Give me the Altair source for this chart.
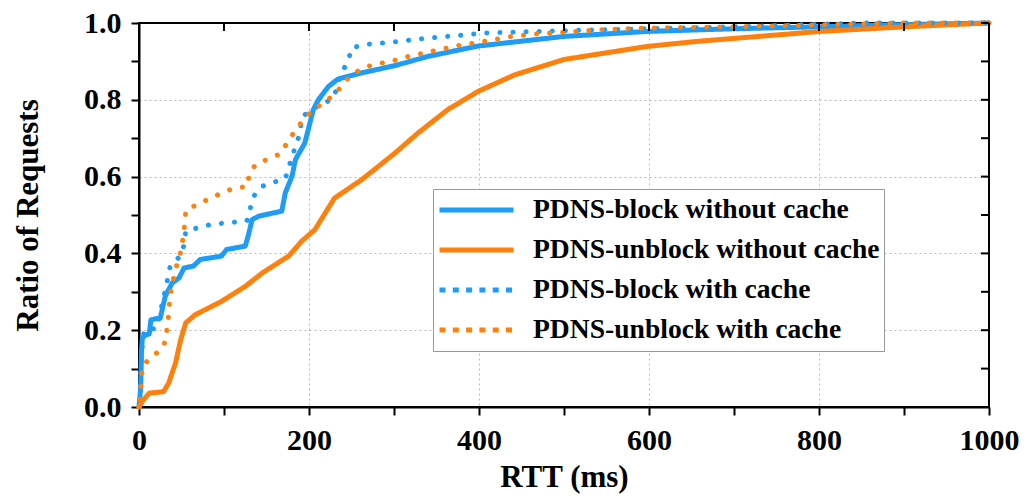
import altair as alt
import pandas as pd

# ---- data ----
series_names = [
    "PDNS-block without cache",
    "PDNS-unblock without cache",
    "PDNS-block with cache",
    "PDNS-unblock with cache",
]

block_nocache_x = [0, 2, 3, 4, 8, 12, 14, 25, 31, 39, 47, 53, 64, 72, 97, 103, 125, 129, 133, 141,
                   168, 172, 180, 184, 195, 205, 211, 223, 234, 262, 301, 340, 399, 500, 598, 700,
                   800, 900, 1000]
block_nocache_y = [0.0, 0.05, 0.15, 0.18, 0.188, 0.19, 0.227, 0.232, 0.289, 0.323, 0.336, 0.362,
                   0.367, 0.384, 0.393, 0.41, 0.419, 0.45, 0.488, 0.497, 0.51, 0.557, 0.601, 0.644,
                   0.687, 0.774, 0.8, 0.835, 0.854, 0.87, 0.889, 0.913, 0.94, 0.965, 0.978, 0.985,
                   0.99, 0.996, 1.0]

unblock_nocache_x = [0, 4, 12, 29, 35, 43, 49, 55, 66, 97, 125, 145, 176, 191, 207, 219, 230, 262,
                     301, 328, 363, 399, 442, 500, 598, 656, 801, 900, 1000]
unblock_nocache_y = [0.0, 0.015, 0.036, 0.04, 0.063, 0.115, 0.175, 0.219, 0.24, 0.275, 0.314, 0.349,
                     0.393, 0.431, 0.462, 0.505, 0.544, 0.592, 0.661, 0.713, 0.774, 0.822, 0.865,
                     0.905, 0.939, 0.952, 0.978, 0.99, 1.0]

block_cache_x = [1, 2, 3, 6, 21, 27, 31, 34, 37, 49, 53, 55, 68, 84, 100, 115, 127, 131, 135, 144,
                 158, 172, 176, 180, 185, 190, 191, 203, 215, 229, 238, 246, 250, 266, 297, 328, 406,
                 500, 598, 700, 850, 1000]
block_cache_y = [0.02, 0.09, 0.14, 0.2, 0.205, 0.266, 0.306, 0.336, 0.371, 0.393, 0.423, 0.458,
                 0.466, 0.475, 0.479, 0.482, 0.485, 0.518, 0.549, 0.574, 0.585, 0.594, 0.622, 0.653,
                 0.683, 0.718, 0.753, 0.776, 0.787, 0.805, 0.87, 0.9, 0.935, 0.944, 0.95, 0.958,
                 0.974, 0.98, 0.985, 0.99, 1.0, 1.0]

unblock_cache_x = [1, 3, 4, 15, 25, 31, 33, 35, 36, 38, 45, 50, 54, 55, 70, 84, 97, 112, 127, 130,
                   137, 152, 166, 182, 191, 203, 217, 231, 240, 250, 266, 281, 297, 313, 344, 375,
                   406, 438, 469, 500, 547, 598, 700, 900, 1000]
unblock_cache_y = [0.02, 0.071, 0.106, 0.132, 0.147, 0.171, 0.205, 0.242, 0.275, 0.312, 0.375, 0.41,
                   0.479, 0.512, 0.529, 0.544, 0.557, 0.57, 0.574, 0.607, 0.631, 0.646, 0.659, 0.714,
                   0.741, 0.771, 0.792, 0.816, 0.84, 0.866, 0.885, 0.894, 0.9, 0.911, 0.926, 0.941,
                   0.952, 0.965, 0.972, 0.976, 0.983, 0.987, 0.99, 1.0, 1.0]

x_ticks = list(range(0, 1001, 100))
y_ticks = [round(i * 0.1, 1) for i in range(11)]

colors = ["#1E9CF8", "#FF800C", "#1E9CF8", "#FF800C"]
dashes = [[1, 0], [1, 0], [0.1, 13], [0.1, 13]]
legend_dashes = [[1, 0], [1, 0], [6, 7.3], [6, 7.3]]
widths = [5, 5, 7.5, 7.5]
legend_widths = [5, 5, 7, 7]

frames = []
for name, xs_, ys_ in [
    (series_names[0], block_nocache_x, block_nocache_y),
    (series_names[1], unblock_nocache_x, unblock_nocache_y),
    (series_names[2], block_cache_x, block_cache_y),
    (series_names[3], unblock_cache_x, unblock_cache_y),
]:
    frames.append(pd.DataFrame({"series": name, "rtt": xs_, "ratio": ys_}))
df = pd.concat(frames, ignore_index=True)

xtick_df = pd.DataFrame({"tick": x_ticks})
ytick_df = pd.DataFrame({"tick": y_ticks})

FONT = "Liberation Serif"
W, H = 850, 384
TICK = 8

grid_x = {"condition": {"test": "datum.value % 200 == 0 && datum.value > 0 && datum.value < 1000",
                        "value": 1}, "value": 0}
grid_y = {"condition": {"test": "round(datum.value*10) % 2 == 0 && datum.value > 0.01 && datum.value < 0.99",
                        "value": 1}, "value": 0}

common_axis = dict(
    grid=True, gridColor="#b8b8b8", gridDash=[2, 3], gridWidth=1,
    tickColor="black", tickWidth=2, tickSize=TICK,
    domainColor="black", domainWidth=2,
    labelFont=FONT, labelFontSize=30, labelFontWeight="bold", labelColor="black",
    titleFont=FONT, titleFontSize=31, titleFontWeight="bold", titleColor="black",
)

x_axis = alt.Axis(orient="bottom", values=x_ticks, labelFlush=False,
                  labelExpr="datum.value % 200 == 0 ? format(datum.value, 'd') : ''",
                  gridOpacity=grid_x, labelPadding=10, titlePadding=7,
                  title="RTT (ms)", **common_axis)
y_axis = alt.Axis(orient="left", values=y_ticks,
                  labelExpr="round(datum.value*10) % 2 == 0 ? format(datum.value, '.1f') : ''",
                  gridOpacity=grid_y, labelPadding=10, titlePadding=39,
                  title="Ratio of Requests", **common_axis)


def xenc(field, axis):
    return alt.X(field, scale=alt.Scale(domain=[0, 1000], nice=False, zero=False), axis=axis)


def yenc(field, axis):
    return alt.Y(field, scale=alt.Scale(domain=[0, 1], nice=False, zero=False), axis=axis)


lines = alt.Chart(df).mark_line(strokeCap="round", strokeJoin="round").encode(
    x=xenc("rtt:Q", x_axis),
    y=yenc("ratio:Q", y_axis),
    color=alt.Color("series:N", scale=alt.Scale(domain=series_names, range=colors), legend=None),
    strokeDash=alt.StrokeDash("series:N", scale=alt.Scale(domain=series_names, range=dashes),
                              legend=None),
    strokeWidth=alt.StrokeWidth("series:N", scale=alt.Scale(domain=series_names, range=widths),
                                legend=None),
    order=alt.Order("rtt:Q"),
)

# inward ticks on the top and right frame edges, positioned by the same scales
top_ticks = alt.Chart(xtick_df).mark_rule(color="black", strokeWidth=2).encode(
    x=xenc("tick:Q", None),
    y=alt.value(0),
    y2=alt.value(TICK),
)
right_ticks = alt.Chart(ytick_df).mark_rule(color="black", strokeWidth=2).encode(
    y=yenc("tick:Q", None),
    x=alt.value(W - TICK),
    x2=alt.value(W),
)

legend_def = alt.Legend(title=None, orient="none", legendX=294, legendY=166,
                        symbolType="stroke", symbolSize=5476,
                        labelFont=FONT, labelFontSize=27.6, labelFontWeight="bold",
                        labelColor="black", labelLimit=600, labelOffset=17,
                        clipHeight=34, rowPadding=6, padding=4,
                        strokeColor="#999999", fillColor="white")

legend_layer = alt.Chart(df).transform_filter("false").mark_line(strokeCap="butt").encode(
    x=xenc("rtt:Q", None),
    y=yenc("ratio:Q", None),
    color=alt.Color("series:N", scale=alt.Scale(domain=series_names, range=colors),
                    legend=legend_def),
    strokeDash=alt.StrokeDash("series:N", scale=alt.Scale(domain=series_names, range=legend_dashes),
                              legend=legend_def),
    strokeWidth=alt.StrokeWidth("series:N", scale=alt.Scale(domain=series_names, range=legend_widths),
                                legend=legend_def),
)

chart = alt.layer(lines, top_ticks, right_ticks, legend_layer).resolve_scale(
    x="independent", y="independent", strokeDash="independent", strokeWidth="independent"
).resolve_legend(
    color="independent", strokeDash="independent", strokeWidth="independent"
).properties(
    width=W, height=H,
    autosize=alt.AutoSizeParams(type="none"),
    padding={"left": 131, "top": 15, "right": 31, "bottom": 88},
).configure_view(stroke="black", strokeWidth=2)

chart.save("out.html", embed_options={"renderer": "svg", "actions": False})
